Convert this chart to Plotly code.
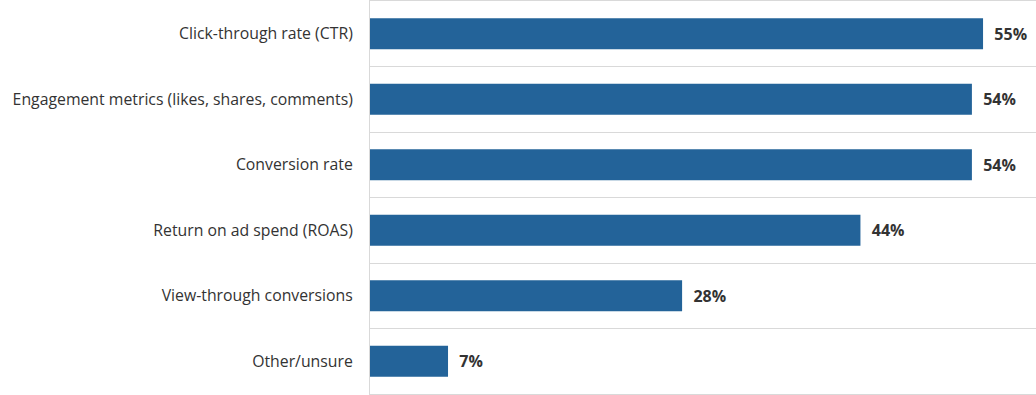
import plotly.graph_objects as go

categories = [
    "Click-through rate (CTR)",
    "Engagement metrics (likes, shares, comments)",
    "Conversion rate",
    "Return on ad spend (ROAS)",
    "View-through conversions",
    "Other/unsure",
]
values = [55, 54, 54, 44, 28, 7]
labels = [f"{v}%" for v in values]

BAR = "#236399"
GRID = "#d9d9d9"
FONT = "Open Sans, Noto Sans, sans-serif"

fig = go.Figure(go.Bar(
    x=values,
    y=categories,
    orientation="h",
    marker=dict(color=BAR, line=dict(width=0)),
    text=["\u00a0\u00a0" + l for l in labels],
    textposition="outside",
    textfont=dict(family=FONT, size=16, color="#333333", weight="bold"),
    cliponaxis=False,
    hoverinfo="skip",
))

fig.update_layout(
    width=1036,
    height=395,
    margin=dict(l=370, r=0, t=1, b=1, pad=0),
    paper_bgcolor="white",
    plot_bgcolor="white",
    bargap=0.53,
    showlegend=False,
    font=dict(family=FONT, size=15.8, color="#333333"),
    xaxis=dict(
        range=[0, 59.75],
        showgrid=False,
        zeroline=False,
        showticklabels=False,
        showline=True,
        mirror=True,
        linecolor=GRID,
        linewidth=1,
        fixedrange=True,
    ),
    yaxis=dict(
        type="category",
        autorange="reversed",
        tickson="boundaries",
        showgrid=True,
        gridcolor=GRID,
        gridwidth=1,
        showline=True,
        linecolor=GRID,
        linewidth=1,
        ticks="",
        ticklabelstandoff=13,
        tickfont=dict(family=FONT, size=15.8, color="#333333"),
        zeroline=False,
        fixedrange=True,
    ),
)

fig.write_html(
    "out.html",
    config={"displayModeBar": False},
    post_script="document.body.style.margin='0';document.body.style.overflow='hidden';",
)
